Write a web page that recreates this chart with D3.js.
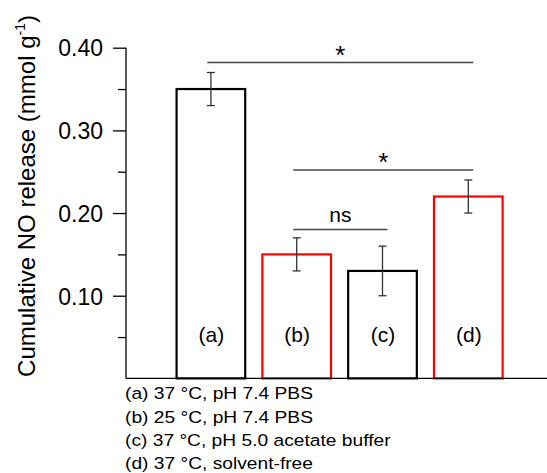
<!DOCTYPE html>
<html><head><meta charset="utf-8">
<script src="https://cdn.jsdelivr.net/npm/d3@7"></script>
<style>body{margin:0;background:#fff}svg{display:block}text{font-family:"Liberation Sans",Arial,sans-serif;fill:#000}</style>
</head><body><svg id="c" width="547" height="473"></svg>
<script>
const categories = ["(a)", "(b)", "(c)", "(d)"];
const values = [0.35, 0.15, 0.13, 0.22];
const errors = [0.02, 0.02, 0.03, 0.02];
const barColors = ["#000000", "#ff0000", "#000000", "#ff0000"];
const majorTicks = [0.10, 0.20, 0.30, 0.40];
const minorTicks = [0.05, 0.15, 0.25, 0.35];
const legendLines = ["(a) 37 °C, pH 7.4 PBS", "(b) 25 °C, pH 7.4 PBS", "(c) 37 °C, pH 5.0 acetate buffer", "(d) 37 °C, solvent-free"];
const sigBrackets = [
  {from: "(a)", to: "(d)", level: 0.382, label: "*"},
  {from: "(b)", to: "(d)", level: 0.252, label: "*"},
  {from: "(b)", to: "(c)", level: 0.18, label: "ns"}
];

const svg = d3.select("#c");
const x = d3.scaleBand().domain(categories).range([168, 511.2]).paddingInner(0.2).paddingOuter(0.1);
const y = d3.scaleLinear().domain([0, 0.4]).range([378.4, 47.7]);
const axisX = 126;

// bars
svg.selectAll("rect.bar").data(categories).join("rect")
  .attr("x", d => x(d)).attr("width", x.bandwidth())
  .attr("y", (d, i) => y(values[i])).attr("height", (d, i) => y(0) - y(values[i]))
  .attr("fill", "none").attr("stroke", (d, i) => barColors[i]).attr("stroke-width", 2.2);

// bar labels
svg.selectAll("text.bl").data(categories).join("text")
  .attr("x", d => x(d) + x.bandwidth() / 2 + 0.5).attr("y", 342)
  .attr("text-anchor", "middle").style("font-size", "21px").text(d => d);

// error bars
const eg = svg.append("g").attr("stroke", "#333").attr("stroke-width", 1.3);
categories.forEach((c, i) => {
  const cx = x(c) + x.bandwidth() / 2;
  const t = y(values[i] + errors[i]), b = y(values[i] - errors[i]);
  eg.append("line").attr("x1", cx).attr("x2", cx).attr("y1", t).attr("y2", b);
  eg.append("line").attr("x1", cx - 4).attr("x2", cx + 4).attr("y1", t).attr("y2", t);
  eg.append("line").attr("x1", cx - 4).attr("x2", cx + 4).attr("y1", b).attr("y2", b);
});

// axes
const yAxis = d3.axisLeft(y).tickValues(majorTicks).tickSize(13).tickPadding(10).tickFormat(d3.format(".2f"));
const gy = svg.append("g").attr("transform", `translate(${axisX},0)`).call(yAxis);
gy.select(".domain").remove();
gy.selectAll(".tick line").attr("stroke", "#000").attr("stroke-width", 1.3);
gy.selectAll(".tick text").style("font-size", "23px").attr("fill", "#000").style("font-family", '"Liberation Sans",Arial,sans-serif').attr("dy", "0.36em");
const gm = svg.append("g").attr("transform", `translate(${axisX},0)`).call(d3.axisLeft(y).tickValues(minorTicks).tickSize(8).tickFormat(""));
gm.select(".domain").remove();
gm.selectAll(".tick line").attr("stroke", "#000").attr("stroke-width", 1.3);
svg.append("line").attr("x1", axisX).attr("x2", axisX).attr("y1", y(0.4)).attr("y2", y(0)).attr("stroke", "#000").attr("stroke-width", 1.3);
svg.append("line").attr("x1", axisX).attr("x2", 547).attr("y1", y(0)).attr("y2", y(0)).attr("stroke", "#000").attr("stroke-width", 1.3);

// y label
const yl = svg.append("text").attr("transform", "translate(35,196) rotate(-90)").attr("text-anchor", "middle").style("font-size", "24px");
yl.append("tspan").text("Cumulative NO release (mmol g");
yl.append("tspan").text("-1").style("font-size", "14px").attr("dy", -10);
yl.append("tspan").text(")").attr("dy", 10);

// significance brackets
sigBrackets.forEach(s => {
  const x1 = x(s.from) + x.bandwidth() / 2 - 3.5, x2 = x(s.to) + x.bandwidth() / 2 + 5;
  const ly = y(s.level);
  svg.append("line").attr("x1", x1).attr("x2", x2).attr("y1", ly).attr("y2", ly).attr("stroke", "#444").attr("stroke-width", 1.5);
  const isNs = s.label === "ns";
  svg.append("text").attr("x", (x1 + x2) / 2).attr("y", isNs ? ly - 8 : ly + 1)
    .attr("text-anchor", "middle").style("font-size", isNs ? "21px" : "26px").text(s.label);
});

// legend
const lg = svg.append("g").attr("transform", "translate(125,0) scale(1.13,1)");
lg.selectAll("text.leg").data(legendLines).join("text")
  .attr("x", 0).attr("y", (d, i) => 399.3 + i * 23.35).style("font-size", "17px").text(d => d);
</script></body></html>
